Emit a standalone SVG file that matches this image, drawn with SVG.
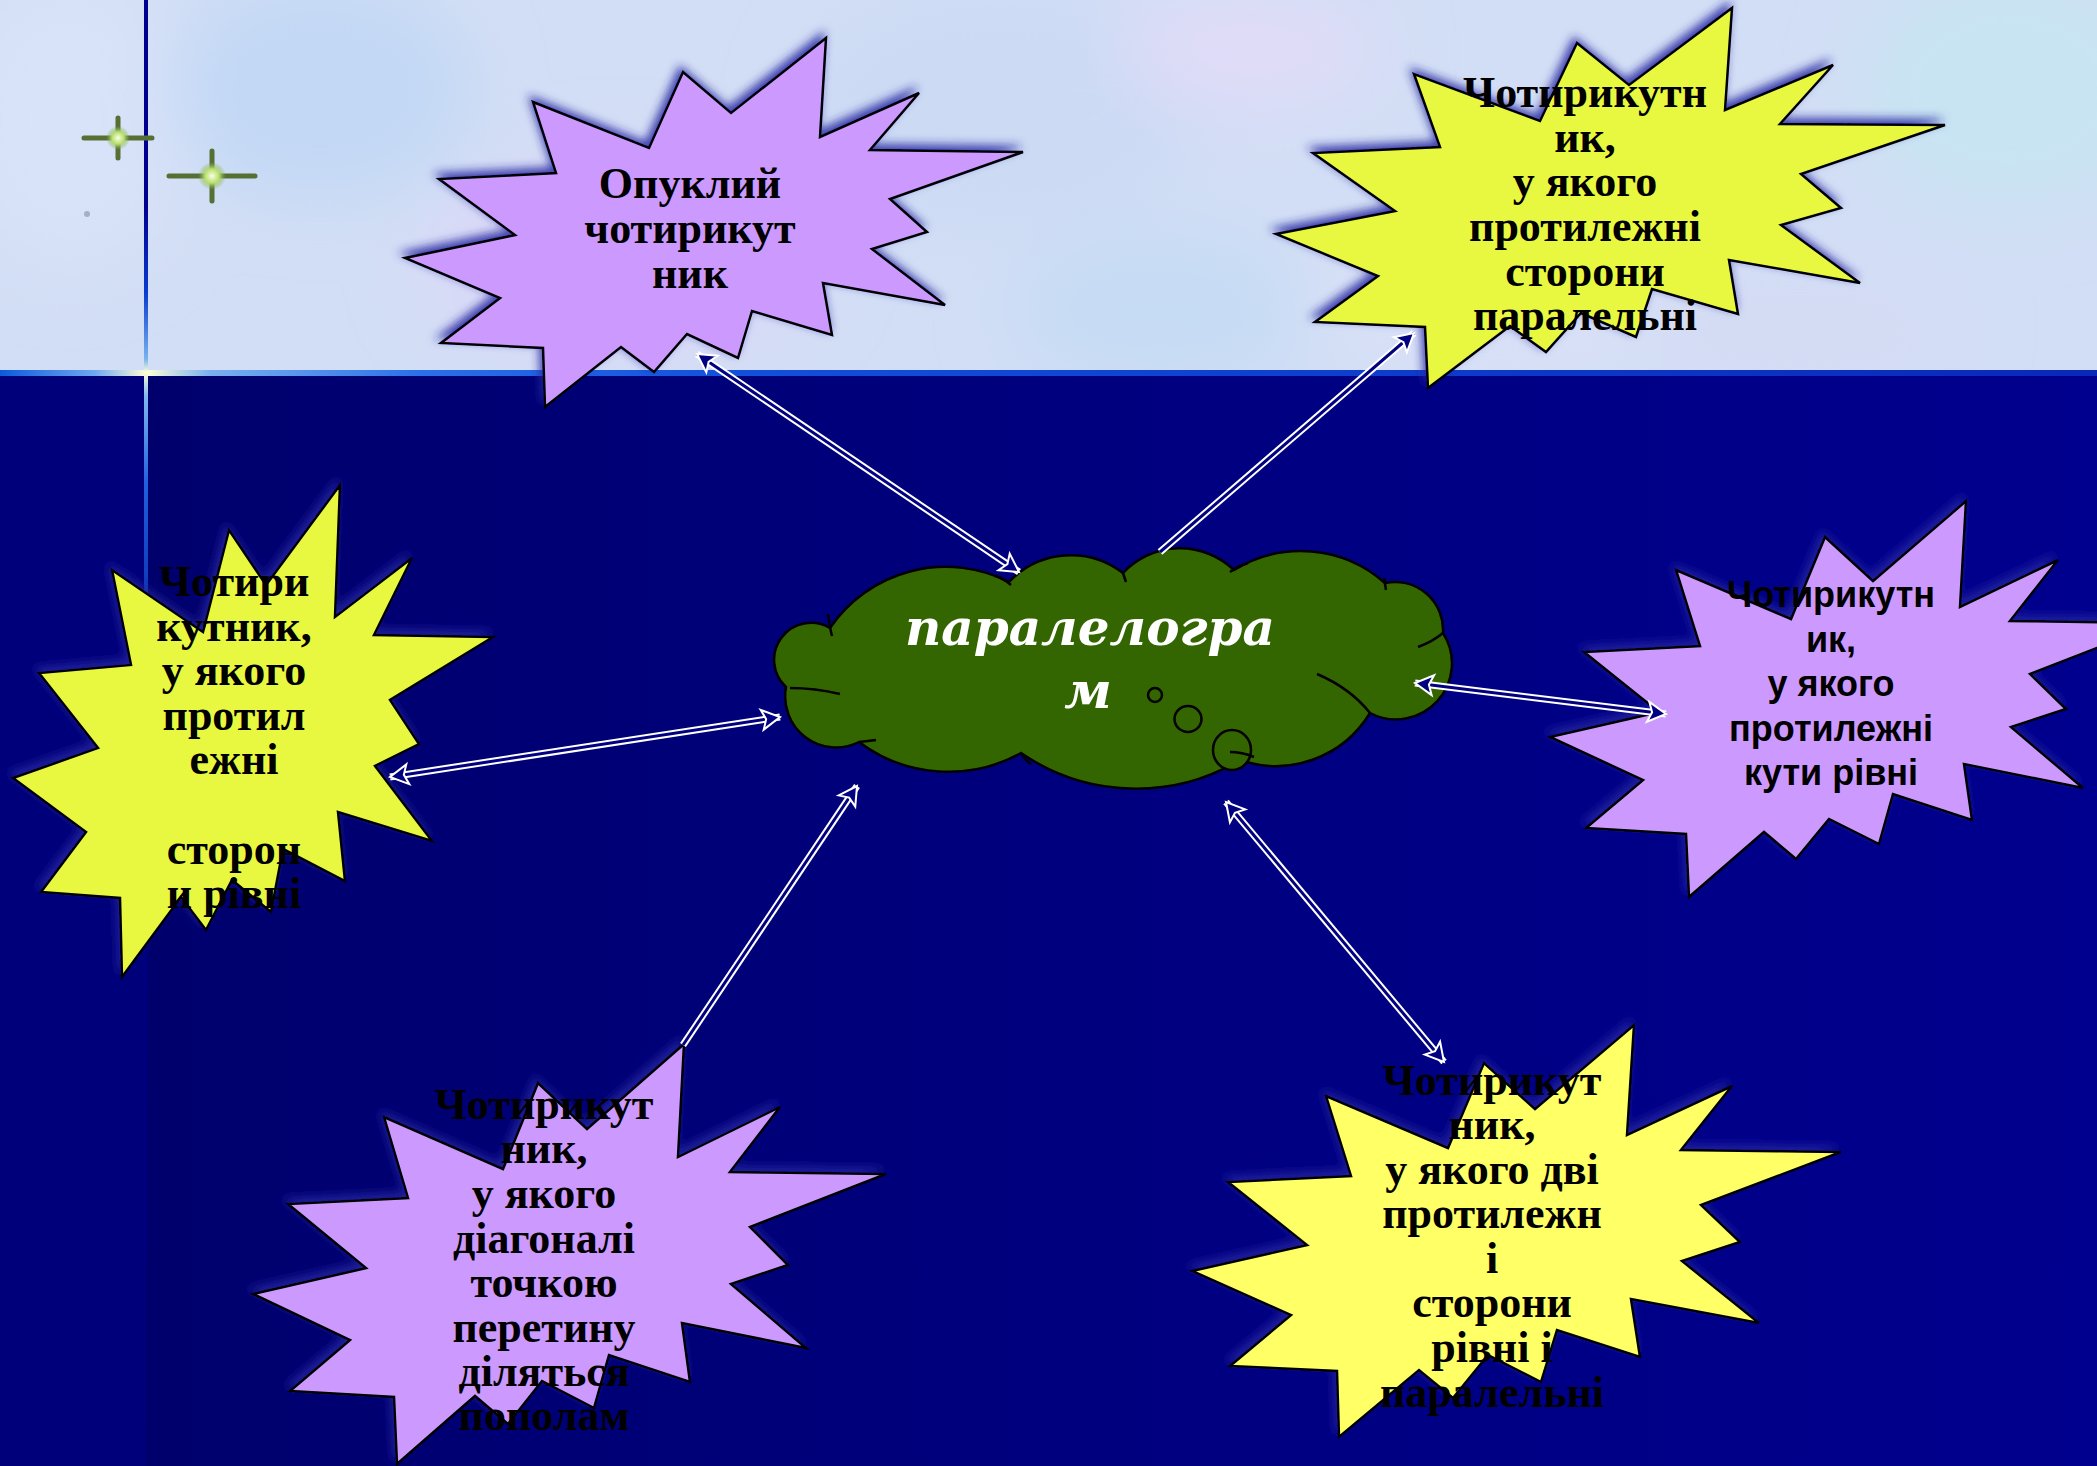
<svg xmlns="http://www.w3.org/2000/svg" width="2097" height="1466" viewBox="0 0 2097 1466">
<defs>
<style>
.star{stroke:#000;stroke-width:2.5;stroke-linejoin:miter;filter:url(#sh)}
.lil{fill:#CC99FF}
.yel{fill:#E8F840}
.yel2{fill:#FFFF66}
.tser{font-family:"Liberation Serif","Times New Roman",serif;font-weight:bold;font-size:44px;fill:#000;text-anchor:middle}
.tsan{font-family:"Liberation Sans",Arial,sans-serif;font-weight:bold;font-size:36px;fill:#000;text-anchor:middle}
.conw{fill:none;stroke:#fff;stroke-width:7}
.conn{fill:none;stroke:#000080;stroke-width:3}
.conm{fill:none;stroke:none}
.inner{fill:none;stroke:#000;stroke-width:2.5}
.spk{stroke:#566F33;stroke-width:5;stroke-linecap:round;fill:none}
</style>
<linearGradient id="lowbg" x1="0" y1="0" x2="1" y2="0">
<stop offset="0" stop-color="#00006A"/>
<stop offset="0.5" stop-color="#00007E"/>
<stop offset="1" stop-color="#00008E"/>
</linearGradient>
<linearGradient id="hline" x1="0" y1="0" x2="2097" y2="0" gradientUnits="userSpaceOnUse">
<stop offset="0" stop-color="#0C5ADC"/>
<stop offset="0.045" stop-color="#6EA8F0"/>
<stop offset="0.07" stop-color="#FFFFD8"/>
<stop offset="0.1" stop-color="#7AB0F0"/>
<stop offset="0.2" stop-color="#2A70E8"/>
<stop offset="0.35" stop-color="#1250DC"/>
<stop offset="1" stop-color="#0A28B8"/>
</linearGradient>
<linearGradient id="vline" x1="0" y1="0" x2="0" y2="1466" gradientUnits="userSpaceOnUse">
<stop offset="0" stop-color="#000090"/>
<stop offset="0.14" stop-color="#000090"/>
<stop offset="0.2" stop-color="#0A3CD0"/>
<stop offset="0.245" stop-color="#78B4F0"/>
<stop offset="0.254" stop-color="#FFFFD8"/>
<stop offset="0.27" stop-color="#80B8F0"/>
<stop offset="0.33" stop-color="#2060E0"/>
<stop offset="0.42" stop-color="#0A30B0"/>
<stop offset="0.6" stop-color="#00008A" stop-opacity="0.5"/>
<stop offset="1" stop-color="#000080" stop-opacity="0"/>
</linearGradient>
<radialGradient id="spkc">
<stop offset="0" stop-color="#FAFFE0"/>
<stop offset="0.5" stop-color="#B8E070"/>
<stop offset="1" stop-color="#7FA84A" stop-opacity="0"/>
</radialGradient>
<clipPath id="topclip"><rect x="0" y="0" width="2097" height="372"/></clipPath>
<filter id="blur" x="-50%" y="-50%" width="200%" height="200%"><feGaussianBlur stdDeviation="35"/></filter>
<filter id="sh" x="-20%" y="-20%" width="140%" height="140%">
<feDropShadow dx="-3" dy="-5" stdDeviation="5" flood-color="#2828A0" flood-opacity="0.85"/>
</filter>
<marker id="ah" viewBox="-22 -13 26 26" refX="0" refY="0" markerWidth="26" markerHeight="26" markerUnits="userSpaceOnUse" orient="auto-start-reverse">
<path d="M-18,-10 L0,0 L-18,10 L-14,0 Z" fill="#000080" stroke="#fff" stroke-width="2" stroke-linejoin="miter"/>
</marker>
</defs>

<g id="background">
<rect x="0" y="0" width="2097" height="1466" fill="url(#lowbg)"/>
<rect x="0" y="372" width="146" height="1094" fill="#00007A"/>
<rect x="0" y="0" width="2097" height="372" fill="#D2DEF5"/>
<g clip-path="url(#topclip)" filter="url(#blur)">
<ellipse cx="70" cy="120" rx="120" ry="150" fill="#D8E2F8"/>
<ellipse cx="320" cy="90" rx="150" ry="110" fill="#C2D8F5"/>
<ellipse cx="620" cy="260" rx="200" ry="100" fill="#DAD8F8"/>
<ellipse cx="1000" cy="110" rx="200" ry="120" fill="#CCDAF4"/>
<ellipse cx="1160" cy="310" rx="150" ry="80" fill="#C6DCF4"/>
<ellipse cx="1500" cy="300" rx="200" ry="80" fill="#D8E0F6"/>
<ellipse cx="2010" cy="90" rx="150" ry="120" fill="#C8E4F2"/>
<ellipse cx="1250" cy="50" rx="130" ry="60" fill="#E0DCF8"/>
<ellipse cx="1800" cy="330" rx="160" ry="60" fill="#D4DCF4"/>
</g>
<rect x="0" y="370" width="2097" height="6" fill="url(#hline)"/>
<rect x="144" y="0" width="4" height="1466" fill="url(#vline)"/>
<g id="sparkles">
<circle cx="87" cy="214" r="3" fill="#A8AEC0"/>
<path class="spk" d="M84,138 H152 M118,118 V158"/>
<circle cx="118" cy="138" r="12" fill="url(#spkc)"/>
<path class="spk" d="M169,176 H255 M212,151 V201"/>
<circle cx="212" cy="176" r="14" fill="url(#spkc)"/>
</g>
</g>

<g id="cloud-paralelogram">
<path d="M786,687 A37,37 0 0 1 830,628 A140,140 0 0 1 1009,582 A85,85 0 0 1 1123,573 A78,78 0 0 1 1234,570 A127,127 0 0 1 1385,583 A48,48 0 0 1 1443,633 A56,56 0 0 1 1370,713 A110,110 0 0 1 1240,760 A203,203 0 0 1 1021,753 A149,149 0 0 1 859,742 A51,51 0 0 1 786,687 Z" fill="#336600" stroke="#000" stroke-width="2.5"/>
<path class="inner" d="M790,688 Q815,688 840,694 M828,614 Q829,625 832,636 M995,576 Q1003,578 1011,585 M1123,573 L1126,582 M1230,572 Q1238,566 1248,563 M1384,578 L1386,590 M1418,647 Q1432,642 1443,633 M1317,674 Q1350,688 1370,713 M1021,753 Q1024,759 1031,764 M859,742 Q868,741 876,740"/>
<circle cx="1155" cy="695" r="7" fill="#336600" stroke="#000" stroke-width="2.5"/>
<ellipse cx="1188" cy="719" rx="13.5" ry="13" fill="#336600" stroke="#000" stroke-width="2.5"/>
<ellipse cx="1232" cy="750" rx="19" ry="20" fill="#336600" stroke="#000" stroke-width="2.5"/>
<path class="inner" d="M1230,752 Q1242,752 1254,757"/>
<text x="1090" y="645" font-family="'DejaVu Serif',serif" font-weight="bold" font-style="italic" font-size="50" fill="#fff" text-anchor="middle">паралелогра</text>
<text x="1088" y="708" font-family="'DejaVu Serif',serif" font-weight="bold" font-style="italic" font-size="50" fill="#fff" text-anchor="middle">м</text>
</g>

<g id="node-opuklyi">
<polygon class="star lil" points="826,38 820,137 919,93 870,150 1023,152 890,199 927,232 872,249 945,305 823,283 832,335 752,311 738,358 687,334 654,372 621,347 545,407 543,348 441,343 500,298 405,258 515,235 439,179 556,173 533,102 649,148 683,72 731,113"/>
<text class="tser"><tspan x="690" y="198">Опуклий</tspan><tspan x="690" y="243">чотирикут</tspan><tspan x="690" y="288">ник</tspan></text>
</g>

<g id="node-protylezhni-storony-paralelni">
<polygon class="star yel" points="1732,8 1725,110 1833,65 1780,124 1945,125 1801,174 1841,208 1781,225 1860,283 1729,260 1738,314 1652,289 1636,337 1581,313 1546,352 1510,326 1428,388 1425,327 1315,322 1378,276 1276,234 1395,211 1313,153 1440,147 1414,74 1540,121 1577,43 1629,85"/>
<text class="tser"><tspan x="1585" y="107">Чотирикутн</tspan><tspan x="1585" y="152">ик,</tspan><tspan x="1585" y="196">у якого</tspan><tspan x="1585" y="241">протилежні</tspan><tspan x="1585" y="286">сторони</tspan><tspan x="1585" y="330">паралельні</tspan></text>
</g>

<g id="node-protylezhni-storony-rivni">
<polygon class="star yel" points="340,485 335,617 412,558 374,635 493,637 390,700 419,744 375,766 432,841 338,812 345,881 283,849 271,912 232,880 206,930 181,897 122,977 120,898 41,892 86,832 13,778 98,748 39,673 131,665 112,570 203,632 229,530 266,585"/>
<text class="tser"><tspan x="234" y="596">Чотири</tspan><tspan x="234" y="641">кутник,</tspan><tspan x="234" y="685">у якого</tspan><tspan x="234" y="730">протил</tspan><tspan x="234" y="774">ежні</tspan><tspan x="234" y="864">сторон</tspan><tspan x="234" y="908">и рівні</tspan></text>
</g>

<g id="node-kuty-rivni">
<polygon class="star lil" points="1966,501 1960,607 2058,560 2010,621 2161,623 2030,674 2066,709 2011,727 2083,788 1964,764 1972,820 1893,794 1879,844 1829,819 1796,859 1764,832 1689,897 1686,834 1586,828 1643,780 1550,737 1659,712 1584,652 1700,646 1676,570 1791,619 1825,537 1873,581"/>
<text class="tsan"><tspan x="1831" y="607">Чотирикутн</tspan><tspan x="1831" y="652">ик,</tspan><tspan x="1831" y="696">у якого</tspan><tspan x="1831" y="741">протилежні</tspan><tspan x="1831" y="785">кути рівні</tspan></text>
</g>

<g id="node-diahonali">
<polygon class="star lil" points="684,1044 678,1157 780,1107 730,1172 886,1174 750,1227 788,1265 731,1284 806,1348 682,1323 690,1382 609,1355 594,1408 542,1381 508,1424 475,1396 397,1464 394,1397 290,1391 350,1340 253,1294 366,1268 288,1204 408,1198 384,1117 503,1169 538,1083 587,1129"/>
<text class="tser"><tspan x="544" y="1119">Чотирикут</tspan><tspan x="544" y="1163">ник,</tspan><tspan x="544" y="1208">у якого</tspan><tspan x="544" y="1253">діагоналі</tspan><tspan x="544" y="1297">точкою</tspan><tspan x="544" y="1342">перетину</tspan><tspan x="544" y="1386">діляться</tspan><tspan x="544" y="1430">пополам</tspan></text>
</g>

<g id="node-dvi-storony">
<polygon class="star yel2" points="1634,1025 1627,1135 1732,1086 1681,1150 1841,1152 1701,1205 1740,1242 1682,1261 1759,1323 1631,1299 1640,1357 1557,1330 1541,1382 1488,1355 1453,1398 1419,1370 1339,1437 1337,1371 1230,1366 1291,1315 1192,1271 1307,1245 1228,1182 1351,1176 1326,1096 1448,1148 1484,1063 1535,1109"/>
<text class="tser"><tspan x="1492" y="1095">Чотирикут</tspan><tspan x="1492" y="1139">ник,</tspan><tspan x="1492" y="1184">у якого дві</tspan><tspan x="1492" y="1228">протилежн</tspan><tspan x="1492" y="1273">і</tspan><tspan x="1492" y="1317">сторони</tspan><tspan x="1492" y="1362">рівні і</tspan><tspan x="1492" y="1407">паралельні</tspan></text>
</g>

<g id="connectors">
<path class="conw" d="M697,354 L1019,572"/>
<path class="conn" d="M697,354 L1019,572"/>
<path class="conm" d="M697,354 L1019,572" marker-start="url(#ah)" marker-end="url(#ah)"/>
<path class="conw" d="M1160,552 L1414,333"/>
<path class="conn" d="M1160,552 L1414,333"/>
<path class="conm" d="M1160,552 L1414,333" marker-end="url(#ah)"/>
<path class="conw" d="M390,777 L780,717"/>
<path class="conn" d="M390,777 L780,717"/>
<path class="conm" d="M390,777 L780,717" marker-start="url(#ah)" marker-end="url(#ah)"/>
<path class="conw" d="M1415,683 L1666,714"/>
<path class="conn" d="M1415,683 L1666,714"/>
<path class="conm" d="M1415,683 L1666,714" marker-start="url(#ah)" marker-end="url(#ah)"/>
<path class="conw" d="M683,1045 L857,786"/>
<path class="conn" d="M683,1045 L857,786"/>
<path class="conm" d="M683,1045 L857,786" marker-end="url(#ah)"/>
<path class="conw" d="M1226,802 L1444,1062"/>
<path class="conn" d="M1226,802 L1444,1062"/>
<path class="conm" d="M1226,802 L1444,1062" marker-start="url(#ah)" marker-end="url(#ah)"/>
</g>
</svg>
